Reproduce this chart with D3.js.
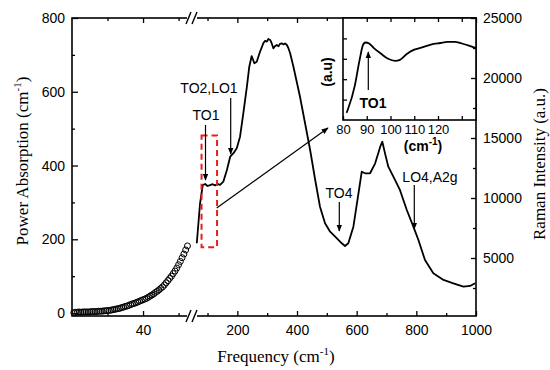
<!DOCTYPE html>
<html>
<head>
<meta charset=utf-8>
<style>
body {margin: 0; background: #fff;}
svg {display: block;}
.tick text {font-family: "Liberation Sans", Arial, sans-serif; font-size: 14px; fill: #000;}
.tick line {stroke: #000; stroke-width: 1.3;}
.serif {font-family: "Liberation Serif", "Times New Roman", serif; font-size: 17px;}
.sans {font-family: "Liberation Sans", Arial, sans-serif; font-size: 14px;}
</style>
</head>
<body>
<svg id=chart width=550 height=370></svg>
<script src="https://cdn.jsdelivr.net/npm/d3@7"></script>
<script>
// absorption (circles, left axis, left part of broken x axis)
var absFreq = [1,2,3,4,5,6,7,8,9,10,11,12,13,14,15,16,17,18,19,20,21,22,23,24,25,26,27,28,29,30,31,32,33,
  34,35,36,37,38,39,40,41,42,43,44,45,46,47,48,49,50,51,52,53,54,55,56,57,58,59,60,61,62,63,64,65];
var absVal = [1,2,2,3,2,3,3,3,3,3,4,4,4,4,5,5,5,6,6,7,7,8,9,10,11,12,13,15,16,18,19,21,23,
  25,26,28,30,32,34,36,38,40,43,46,49,52,56,59,63,67,71,76,82,88,94,100,107,114,122,131,140,150,160,171,182];

// raman spectrum (line, right axis)
var ramanFreq = [64,75,84,92,100,109,117,125,133,142,153,165,176,187,198,209,220,232,240,248,257,265,276,
  287,293,299,304,310,315,321,326,332,338,343,349,355,360,366,371,377,388,410,427,444,461,477,494,511,528,
  550,561,572,589,606,617,628,645,662,679,686,695,706,723,745,768,790,807,829,857,891,924,958,980,997];
var ramanVal = [6225,9560,11080,11170,11000,11080,11150,11050,11170,11100,11360,12330,13440,13730,14140,15110,17060,19280,20940,21830,21230,21360,22190,
  22890,23100,23030,23250,23170,22900,22470,22650,22750,22650,22850,22890,22800,22880,22750,22500,22060,20940,18440,16230,14000,11500,9275,7890,7190,6775,
  6225,6000,6225,7610,10390,12190,12060,12060,12890,14280,14690,13720,12610,11780,10670,9000,7610,6500,4830,3725,3170,2890,2610,2670,2890];

// inset zoom on TO1
var insetFreq = [81.5,82,85,87,88.5,89.5,91,93,96,99,102,104,107,110,113,117,121,124,127,130,133,136];
var insetVal = [7,10,34,59,74,76,75,70.5,65,60,58,59,65,69,71,74,75.5,76.5,76.5,75,73,70.5];

var leftTicks = [0,200,400,600,800], leftMinor = [100,300,500,700];
var rightTicks = [5000,10000,15000,20000,25000], rightMinor = [2500,7500,12500,17500,22500];
var lowTicks = [40], lowMinor = [20,60];
var highTicks = [200,400,600,800,1000], highMinor = [100,300,500,700,900];
var insetTicks = [80,90,100,110,120], insetYTicks = [20,40,60,80];

var svg = d3.select('#chart');

var xL = d3.scaleLinear().domain([0, 67]).range([72, 191]);
var xR = d3.scaleLinear().domain([50, 1000]).range([192.6, 476]);
var yL = d3.scaleLinear().domain([-8, 800]).range([316, 18]);
var yR = d3.scaleLinear().domain([0, 25000]).range([318, 18]);
var pLeft = 72, pRight = 476, pTop = 18, pBottom = 316, insLeft = 343, insBottom = 120;
var fmt = d3.format('d');

function noDomain(g){ g.select('.domain').remove(); }

//arrow head
svg.append('defs').append('marker')
    .attr('id', 'head').attr('viewBox', '0 0 10 10')
    .attr('refX', 9).attr('refY', 5)
    .attr('markerWidth', 7).attr('markerHeight', 7)
    .attr('markerUnits', 'userSpaceOnUse')
    .attr('orient', 'auto')
  .append('path').attr('d', 'M0,1 L10,5 L0,9 Z').attr('fill', '#000');

//frame
svg.append('rect')
    .attr('x', pLeft).attr('y', pTop)
    .attr('width', pRight-pLeft).attr('height', pBottom-pTop)
    .attr('fill', 'none').attr('stroke', '#000').attr('stroke-width', 1.6);

//bottom axis, both segments, major + minor
[[xL, lowTicks, lowMinor], [xR, highTicks, highMinor]].forEach(function(s){
  svg.append('g').attr('transform', 'translate(0,' + pBottom + ')')
      .call(d3.axisBottom(s[0]).tickValues(s[1]).tickSize(-5).tickPadding(9).tickFormat(fmt)).call(noDomain);
  svg.append('g').attr('transform', 'translate(0,' + pBottom + ')')
      .call(d3.axisBottom(s[0]).tickValues(s[2]).tickSize(-3).tickFormat('')).call(noDomain);
  svg.append('g').attr('transform', 'translate(0,' + pTop + ')')
      .call(d3.axisTop(s[0]).tickValues(s[1]).tickSize(-5).tickFormat('')).call(noDomain);
  svg.append('g').attr('transform', 'translate(0,' + pTop + ')')
      .call(d3.axisTop(s[0]).tickValues(s[2]).tickSize(-3).tickFormat('')).call(noDomain);
});

//left axis
svg.append('g').attr('transform', 'translate(' + pLeft + ',0)')
    .call(d3.axisLeft(yL).tickValues(leftTicks).tickSize(-6).tickPadding(7).tickFormat(fmt)).call(noDomain);
svg.append('g').attr('transform', 'translate(' + pLeft + ',0)')
    .call(d3.axisLeft(yL).tickValues(leftMinor).tickSize(-3).tickFormat('')).call(noDomain);

//axis breaks
[pBottom, pTop].forEach(function(yy){
  svg.append('rect').attr('x', 187).attr('y', yy-2).attr('width', 10).attr('height', 4).attr('fill', '#fff');
  [186, 192].forEach(function(x0){
    svg.append('line')
        .attr('x1', x0).attr('y1', yy+6).attr('x2', x0+5).attr('y2', yy-6)
        .attr('stroke', '#000').attr('stroke-width', 1.4);
  });
});

//absorption circles
svg.append('g').selectAll('circle')
  .data(absFreq)
  .enter().append('circle')
    .attr('cx', function(d) { return xL(d); })
    .attr('cy', function(d, i) { return yL(absVal[i]); })
    .attr('r', 3)
    .attr('fill', 'none').attr('stroke', '#000').attr('stroke-width', 1);

//raman line
var line = d3.line()
    .x(function(d) { return xR(d); })
    .y(function(d, i) { return yR(ramanVal[i]); });
svg.append('path')
    .attr('d', line(ramanFreq))
    .attr('fill', 'none').attr('stroke', '#000').attr('stroke-width', 1.8)
    .attr('stroke-linejoin', 'round');

//red dashed box around TO1
svg.append('rect')
    .attr('x', xR(80)).attr('y', yR(15200))
    .attr('width', xR(132)-xR(80)).attr('height', yR(5900)-yR(15200))
    .attr('fill', 'none').attr('stroke', '#e3201c').attr('stroke-width', 2)
    .attr('stroke-dasharray', '6,4');

//annotations
function arrow(x1, y1, x2, y2){
  svg.append('line')
      .attr('x1', x1).attr('y1', y1).attr('x2', x2).attr('y2', y2)
      .attr('stroke', '#000').attr('stroke-width', 1.2)
      .attr('marker-end', 'url(#head)');
}
function label(x, y, t, cls, weight){
  return svg.append('text').attr('class', cls || 'sans')
      .attr('x', x).attr('y', y).attr('text-anchor', 'middle')
      .attr('font-weight', weight || 'normal').text(t);
}
label(209, 93, 'TO2,LO1');
arrow(230.7, 98, 230.7, 154);
label(206, 120, 'TO1');
arrow(205.5, 125, 205.5, 180);
label(339, 198, 'TO4');
arrow(339.3, 202, 339.3, 231);
label(430, 182, 'LO4,A2g');
arrow(414.3, 185, 414.3, 229);
arrow(216.7, 208, 328, 128);

//inset
var xI = d3.scaleLinear().domain([80, 136]).range([insLeft, pRight]);
var yI = d3.scaleLinear().domain([0, 100]).range([insBottom, pTop]);
svg.append('rect')
    .attr('x', insLeft).attr('y', pTop).attr('width', pRight-insLeft).attr('height', insBottom-pTop)
    .attr('fill', '#fff').attr('stroke', '#000').attr('stroke-width', 1.6);
svg.append('g').attr('transform', 'translate(0,' + insBottom + ')')
    .call(d3.axisBottom(xI).tickValues(insetTicks.concat([130])).tickSize(-4).tickPadding(5)
      .tickFormat(function(d){ return d < 130 ? d : ''; }))
    .call(noDomain)
    .selectAll('text').style('font-size', '13px');
svg.append('g').attr('transform', 'translate(0,' + pTop + ')')
    .call(d3.axisTop(xI).tickValues([90,100,110,120,130]).tickSize(-4).tickFormat('')).call(noDomain);
svg.append('g').attr('transform', 'translate(' + insLeft + ',0)')
    .call(d3.axisLeft(yI).tickValues(insetYTicks).tickSize(-4).tickFormat('')).call(noDomain);
var iline = d3.line()
    .x(function(d) { return xI(d); })
    .y(function(d, i) { return yI(insetVal[i]); })
    .curve(d3.curveMonotoneX);
svg.append('path')
    .attr('d', iline(insetFreq))
    .attr('fill', 'none').attr('stroke', '#000').attr('stroke-width', 1.8);
arrow(368.3, 90, 368.3, 52);
label(373, 108, 'TO1', 'sans', 'bold');
svg.append('text').attr('class', 'sans')
    .attr('font-weight', 'bold').attr('text-anchor', 'middle')
    .attr('transform', 'translate(332,72) rotate(-90)')
    .text('(a.u)');
var cmI = svg.append('text').attr('class', 'sans').attr('font-weight', 'bold')
    .attr('text-anchor', 'middle').attr('x', 423).attr('y', 151);
cmI.append('tspan').text('(cm');
cmI.append('tspan').attr('dy', -6).style('font-size', '10px').text('-1');
cmI.append('tspan').attr('dy', 6).text(')');

//right axis (drawn over inset)
svg.append('g').attr('transform', 'translate(' + pRight + ',0)')
    .call(d3.axisRight(yR).tickValues(rightTicks).tickSize(-5).tickPadding(7).tickFormat(fmt)).call(noDomain);
svg.append('g').attr('transform', 'translate(' + pRight + ',0)')
    .call(d3.axisRight(yR).tickValues(rightMinor).tickSize(-3).tickFormat('')).call(noDomain);

//axis titles
function title(transform, x, y){
  var el = svg.append('text').attr('class', 'serif').attr('text-anchor', 'middle')
      .attr('x', x).attr('y', y);
  if(transform) el.attr('transform', transform);
  return el;
}
var tl = title('translate(28,161) rotate(-90)', 0, 0);
tl.append('tspan').text('Power Absorption (cm');
tl.append('tspan').attr('dy', -7).style('font-size', '11px').text('-1');
tl.append('tspan').attr('dy', 7).text(')');

title('translate(545,164) rotate(-90)', 0, 0).text('Raman Intensity (a.u.)');

var tb = title(null, 276, 362);
tb.append('tspan').text('Frequency (cm');
tb.append('tspan').attr('dy', -7).style('font-size', '11px').text('-1');
tb.append('tspan').attr('dy', 7).text(')');
</script>
</body>
</html>
